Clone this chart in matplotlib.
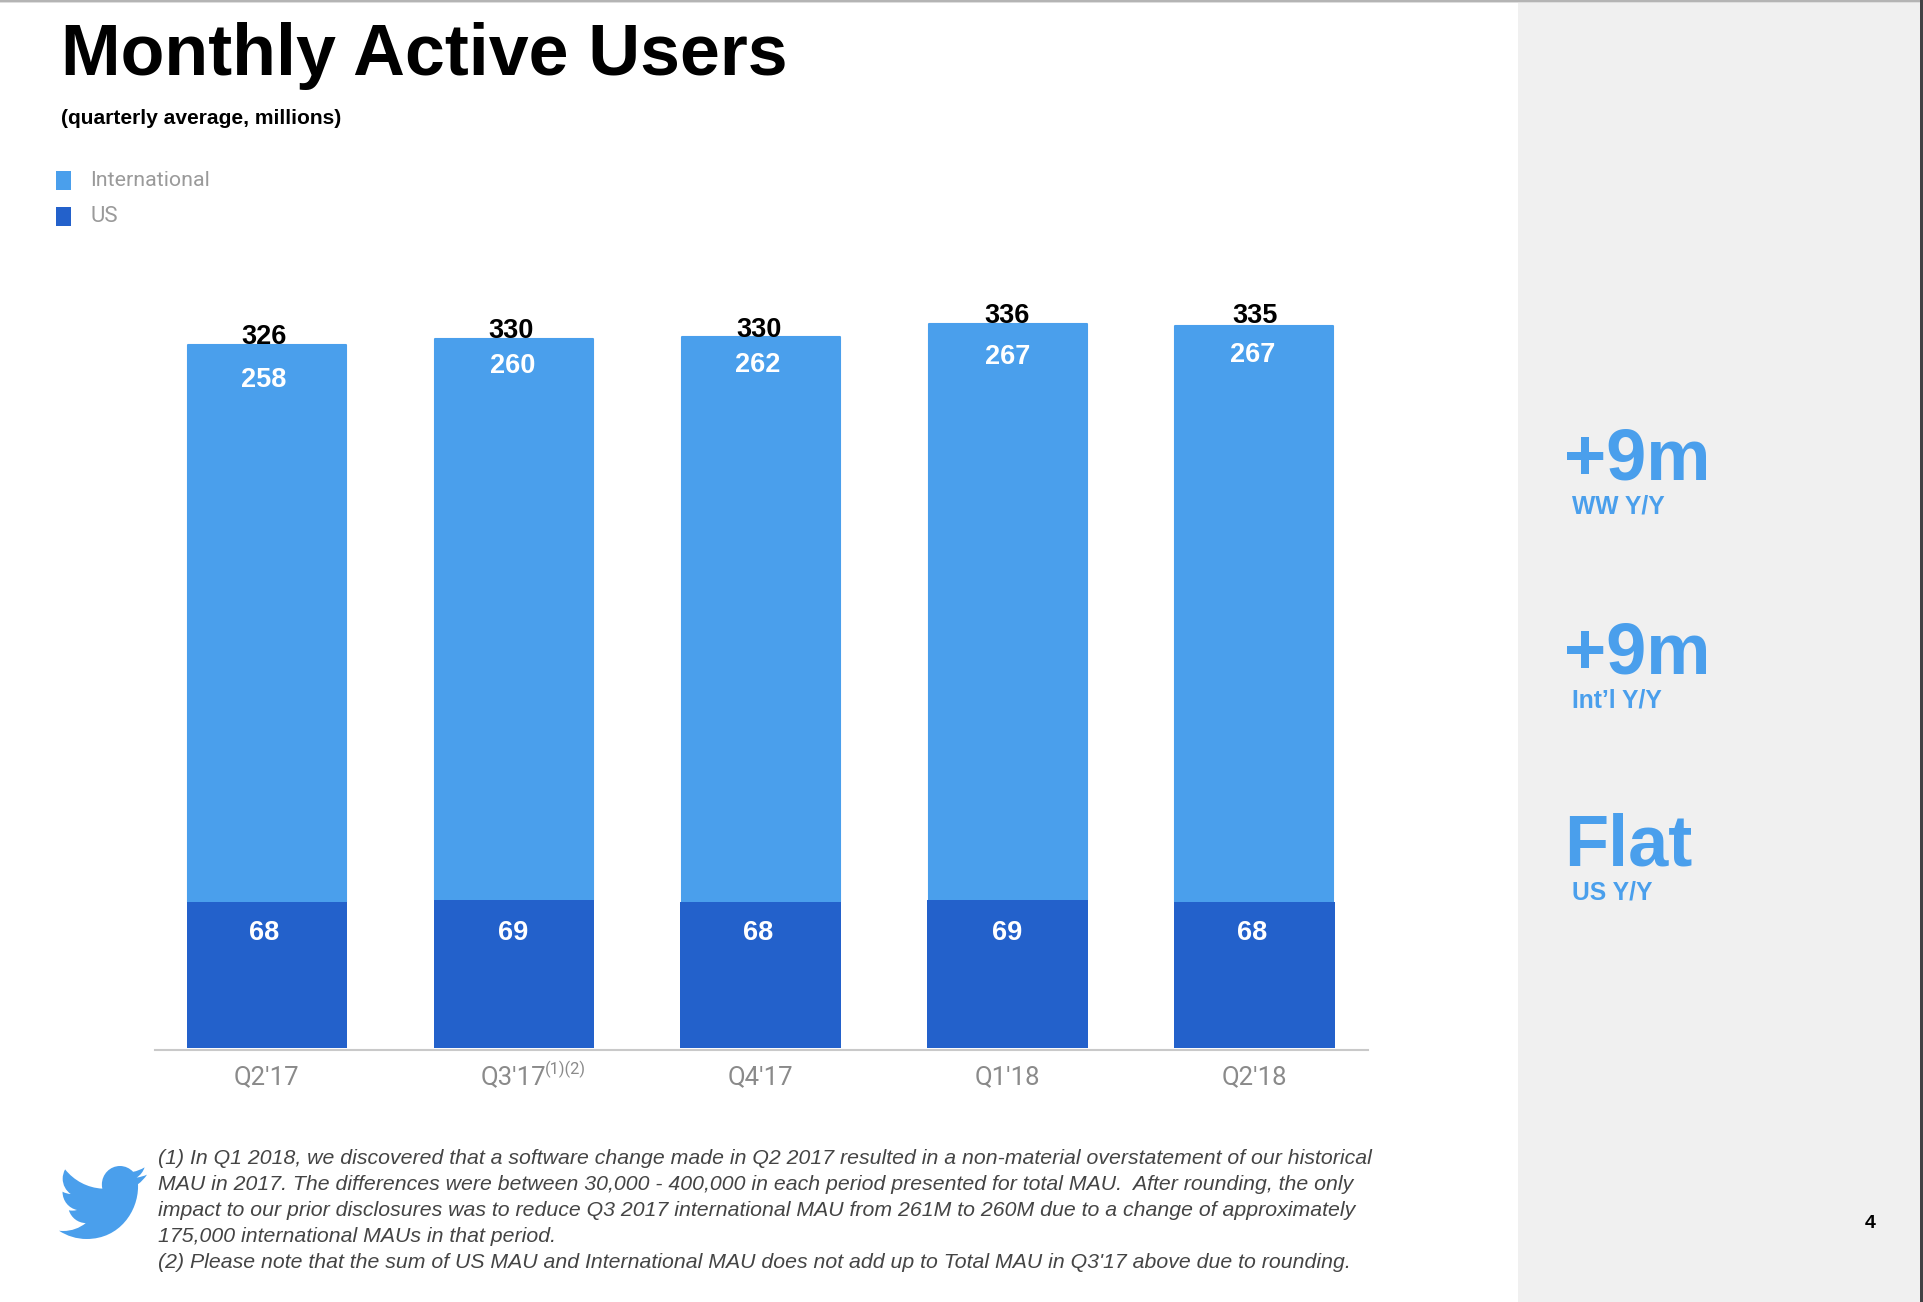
import re

import matplotlib

matplotlib.use("Agg")
import matplotlib.pyplot as plt
from matplotlib.patches import PathPatch, Rectangle
from matplotlib.path import Path

WIDTH, HEIGHT = 1924, 1302

quarters = ["Q2'17", "Q3'17", "Q4'17", "Q1'18", "Q2'18"]
us_mau = [68, 69, 68, 69, 68]
intl_mau = [258, 260, 262, 267, 267]
total_mau = [326, 330, 330, 336, 335]

footnotes = [
    "(1) In Q1 2018, we discovered that a software change made in Q2 2017 resulted in a non-material overstatement of our historical",
    "MAU in 2017. The differences were between 30,000 - 400,000 in each period presented for total MAU.  After rounding, the only",
    "impact to our prior disclosures was to reduce Q3 2017 international MAU from 261M to 260M due to a change of approximately",
    "175,000 international MAUs in that period.",
    "(2) Please note that the sum of US MAU and International MAU does not add up to Total MAU in Q3'17 above due to rounding.",
]
callouts = [("+9m", "WW Y/Y"), ("+9m", "Int\u2019l Y/Y"), ("Flat", "US Y/Y")]

LIGHT = "#4a9fec"
DARK = "#2361cb"
BIRD = "M23.643 4.937c-.835.37-1.732.62-2.675.733.962-.576 1.7-1.49 2.048-2.578-.9.534-1.897.922-2.958 1.13-.85-.904-2.06-1.47-3.4-1.47-2.572 0-4.658 2.086-4.658 4.66 0 .364.042.718.12 1.06-3.873-.195-7.304-2.05-9.602-4.868-.4.69-.63 1.49-.63 2.342 0 1.616.823 3.043 2.072 3.878-.764-.025-1.482-.234-2.11-.583v.06c0 2.257 1.605 4.14 3.737 4.568-.392.106-.803.162-1.227.162-.3 0-.593-.028-.877-.082.593 1.85 2.313 3.198 4.352 3.234-1.595 1.25-3.604 1.995-5.786 1.995-.376 0-.747-.022-1.112-.065 2.062 1.323 4.51 2.093 7.14 2.093 8.57 0 13.255-7.098 13.255-13.254 0-.2 0-.402-.015-.602.91-.658 1.7-1.477 2.323-2.41z"


def fx(x):
    return x / WIDTH


def fy(y):
    return 1 - y / HEIGHT


def px(value):
    # offset in image pixels to points, figure is at dpi 100
    return value * 0.72


def bird_path(left, top, right, bottom):
    tokens = re.findall(r"[Mcvz]|-?\d*\.?\d+", BIRD)
    verts, codes = [], []
    x, y = 0.0, 0.0
    i, cmd = 0, None
    while i < len(tokens):
        if tokens[i] in "Mcvz":
            cmd = tokens[i]
            i += 1
            if cmd == "z":
                verts.append((x, y))
                codes.append(Path.CLOSEPOLY)
            continue
        if cmd == "M":
            x, y = float(tokens[i]), float(tokens[i + 1])
            verts.append((x, y))
            codes.append(Path.MOVETO)
            i += 2
        elif cmd == "v":
            y += float(tokens[i])
            verts.append((x, y))
            codes.append(Path.LINETO)
            i += 1
        else:
            vals = [float(t) for t in tokens[i : i + 6]]
            verts += [(x + vals[0], y + vals[1]), (x + vals[2], y + vals[3]), (x + vals[4], y + vals[5])]
            codes += [Path.CURVE4] * 3
            x, y = x + vals[4], y + vals[5]
            i += 6
    xs = [v[0] for v in verts]
    ys = [v[1] for v in verts]
    x0, x1, y0, y1 = min(xs), max(xs), min(ys), max(ys)
    scaled = [
        (fx(left + (a - x0) / (x1 - x0) * (right - left)), fy(top + (b - y0) / (y1 - y0) * (bottom - top)))
        for a, b in verts
    ]
    return Path(scaled, codes)


fig = plt.figure(figsize=(WIDTH / 100, HEIGHT / 100), dpi=100, facecolor="white")


def add_rect(x0, y0, x1, y1, color):
    fig.patches.append(
        Rectangle((fx(x0), fy(y1)), (x1 - x0) / WIDTH, (y1 - y0) / HEIGHT, transform=fig.transFigure,
                  facecolor=color, edgecolor="none", figure=fig)
    )


# side panel, page edge and top shadow
add_rect(1518, 0, 1920, HEIGHT, "#f0f0f0")
add_rect(1920, 0, WIDTH, HEIGHT, "#414144")
add_rect(0, 0, 1920, 1.5, "#b4b4b4")
add_rect(0, 1.5, 1920, 3, "#dedede")

fig.text(fx(61), fy(75.5), "Monthly Active Users", family="Liberation Sans", weight="bold", fontsize=51.7, color="black")
fig.text(fx(61), fy(124), "(quarterly average, millions)", family="Liberation Sans", weight="bold", fontsize=15.15, color="black")

# legend
add_rect(56, 171, 71, 190, LIGHT)
add_rect(56, 207, 71, 226, DARK)
fig.text(fx(90), fy(181), "International", family="Roboto", fontsize=15.4, color="#9a9a9a", va="center")
fig.text(fx(90), fy(217), "US", family="Roboto", fontsize=16, color="#9a9a9a", va="center")

# bars, 2.157 px per million
ax_left, ax_right, ax_top, ax_bottom = 154.6, 1368.0, 200.0, 1049.5
ax = fig.add_axes([fx(ax_left), fy(ax_bottom), (ax_right - ax_left) / WIDTH, (ax_bottom - ax_top) / HEIGHT])
ax.patch.set_alpha(0)
positions = list(range(len(quarters)))
ax.bar(positions, us_mau, width=0.65, color=DARK, zorder=3)
ax.bar(positions, intl_mau, width=0.64, bottom=us_mau, color=LIGHT, edgecolor=LIGHT, linewidth=1.5,
       joinstyle="round", zorder=2)
ax.set_xlim(-0.455, 4.46)
ax.set_ylim(-0.5, -0.5 + (ax_bottom - ax_top) / 2.157)
for name in ["top", "left", "right"]:
    ax.spines[name].set_visible(False)
ax.spines["bottom"].set_color("#c9c9c9")
ax.spines["bottom"].set_linewidth(1.5)
ax.set_yticks([])
ax.set_xticks(positions)
ax.set_xticklabels(quarters, family="Roboto", fontsize=18.5, color="#8a8a8a")
ax.tick_params(axis="x", length=0, pad=11)

ax.annotate("(1)(2)", xy=(1, 0), xytext=(px(31), px(-26)), textcoords="offset points",
            family="Roboto", fontsize=11.8, color="#8a8a8a", ha="left", va="baseline")

# value labels sit a little unevenly in the source
total_dx = [-3, -3, -2, -1, 1]
total_dy = [8, 8, 7, 8, 10]
intl_dx = [-3, -1, -3, 0, -2]
intl_dy = [-35, -27, -28, -33, -29]
us_dx = [-3, -1, -3, 0, -2]
for i, pos in enumerate(positions):
    top = us_mau[i] + intl_mau[i]
    ax.annotate(str(total_mau[i]), xy=(pos, top), xytext=(px(total_dx[i]), px(total_dy[i])),
                textcoords="offset points", ha="center", va="center", family="Liberation Sans",
                weight="bold", fontsize=19.5, color="black", zorder=5)
    ax.annotate(str(intl_mau[i]), xy=(pos, top), xytext=(px(intl_dx[i]), px(intl_dy[i])),
                textcoords="offset points", ha="center", va="center", family="Liberation Sans",
                weight="bold", fontsize=19.5, color="white", zorder=5)
    ax.annotate(str(us_mau[i]), xy=(pos, 0), xytext=(px(us_dx[i]), px(115)),
                textcoords="offset points", ha="center", va="center", family="Liberation Sans",
                weight="bold", fontsize=19.5, color="white", zorder=5)

# right column callouts
big_baselines = [479, 673, 866]
small_baselines = [513, 707, 900]
for (big, small), base, sub in zip(callouts, big_baselines, small_baselines):
    fig.text(fx(1564), fy(base), big, family="Liberation Sans", weight="bold", fontsize=52, color=LIGHT)
    fig.text(fx(1572), fy(sub), small, family="Liberation Sans", weight="bold", fontsize=17.7, color=LIGHT)

# footnotes
note_baselines = [1164, 1190, 1216, 1242, 1268]
for line, base in zip(footnotes, note_baselines):
    fig.text(fx(158), fy(base), line, family="Liberation Sans", style="italic", fontsize=15.33, color="#444444")

fig.text(fx(1870), fy(1224), "4", family="Liberation Sans", weight="bold", fontsize=14, color="black", ha="center", va="center")

fig.patches.append(PathPatch(bird_path(59, 1166, 147, 1239), transform=fig.transFigure, facecolor=LIGHT,
                             edgecolor="none", figure=fig))

fig.savefig("out.png", dpi=100)
